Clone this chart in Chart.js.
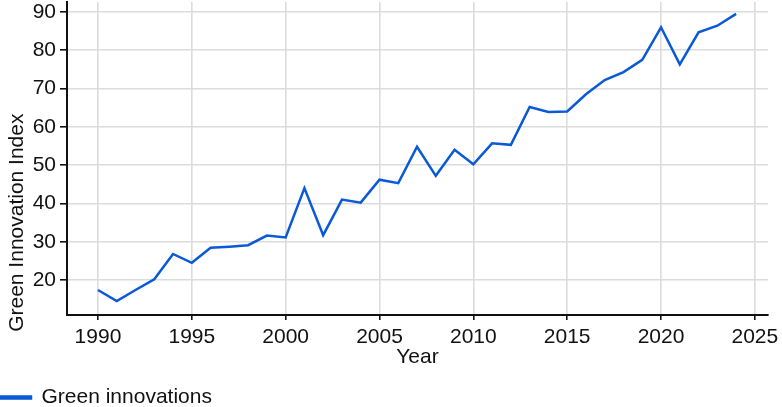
<!DOCTYPE html>
<html>
<head>
<meta charset="utf-8">
<script src="https://cdn.jsdelivr.net/npm/chart.js@4.4.0/dist/chart.umd.min.js"></script>
<style>
  html, body { margin: 0; padding: 0; background: #fff; }
  #wrap { width: 782px; height: 407px; }
</style>
</head>
<body>
<div id="wrap"><canvas id="chart"></canvas></div>
<script>
// data
var years = [1990, 1991, 1992, 1993, 1994, 1995, 1996, 1997, 1998, 1999,
             2000, 2001, 2002, 2003, 2004, 2005, 2006, 2007, 2008, 2009,
             2010, 2011, 2012, 2013, 2014, 2015, 2016, 2017, 2018, 2019,
             2020, 2021, 2022, 2023, 2024];
var greenIndex = [17.4, 14.5, 17.4, 20.2, 26.8, 24.5, 28.4, 28.7, 29.1, 31.6,
                  31.1, 44.0, 31.7, 41.0, 40.2, 46.2, 45.3, 54.8, 47.2, 54.0,
                  50.2, 55.7, 55.3, 65.2, 63.9, 64.0, 68.5, 72.2, 74.3, 77.5,
                  86.0, 76.3, 84.7, 86.4, 89.5];
var xTicks = [1990, 1995, 2000, 2005, 2010, 2015, 2020, 2025];
var yTicks = [20, 30, 40, 50, 60, 70, 80, 90];

var font = { family: 'Liberation Sans, Arial, sans-serif', size: 21 };
var ink = '#111';

var points = [];
for (var i = 0; i < years.length; i++) {
  points.push({ x: years[i], y: greenIndex[i] });
}

// y title sits lower than the plot centre in the original, trailing spaces push it down
var yTitle = 'Green Innovation Index' + new Array(23).join(' ');

var ctx = document.getElementById('chart').getContext('2d');
var chart = new Chart(ctx, {
  type: 'line',
  data: {
    datasets: [{
      label: 'Green innovations',
      data: points,
      borderColor: '#0a59d6',
      backgroundColor: '#0a59d6',
      borderWidth: 2.5,
      pointRadius: 0,
      tension: 0
    }]
  },
  options: {
    responsive: true,
    maintainAspectRatio: false,
    animation: false,
    layout: { padding: { top: 2, right: 14, left: 0, bottom: -11 } },
    plugins: {
      legend: {
        position: 'bottom',
        align: 'start',
        labels: { font: font, color: ink, boxWidth: 31, boxHeight: 2, padding: 0 }
      },
      tooltip: { enabled: false }
    },
    scales: {
      x: {
        type: 'linear',
        min: 1988.35,
        max: 2025.7,
        afterBuildTicks: function (s) { s.ticks = xTicks.map(function (v) { return { value: v }; }); },
        afterFit: function (s) { s.height = 72; s.paddingLeft = 0; s.paddingRight = 0; },
        ticks: { font: font, color: ink, padding: 5, callback: function (v) { return String(v); } },
        grid: { color: '#dcdcdc', lineWidth: 1.6, tickColor: ink, tickLength: 5 },
        border: { color: ink, width: 2 },
        title: { display: true, text: 'Year', font: font, color: ink, padding: { top: 0, bottom: 17 } }
      },
      y: {
        min: 10.86,
        max: 92.6,
        afterBuildTicks: function (s) { s.ticks = yTicks.map(function (v) { return { value: v }; }); },
        afterFit: function (s) { s.width = 67; s.paddingTop = 0; s.paddingBottom = 0; },
        ticks: { font: font, color: ink, padding: 4 },
        grid: { color: '#dcdcdc', lineWidth: 1.6, tickColor: ink, tickLength: 7 },
        border: { color: ink, width: 2 },
        title: { display: true, text: yTitle, font: font, color: ink, padding: { top: 5, bottom: 0 } }
      }
    }
  }
});
</script>
</body>
</html>
